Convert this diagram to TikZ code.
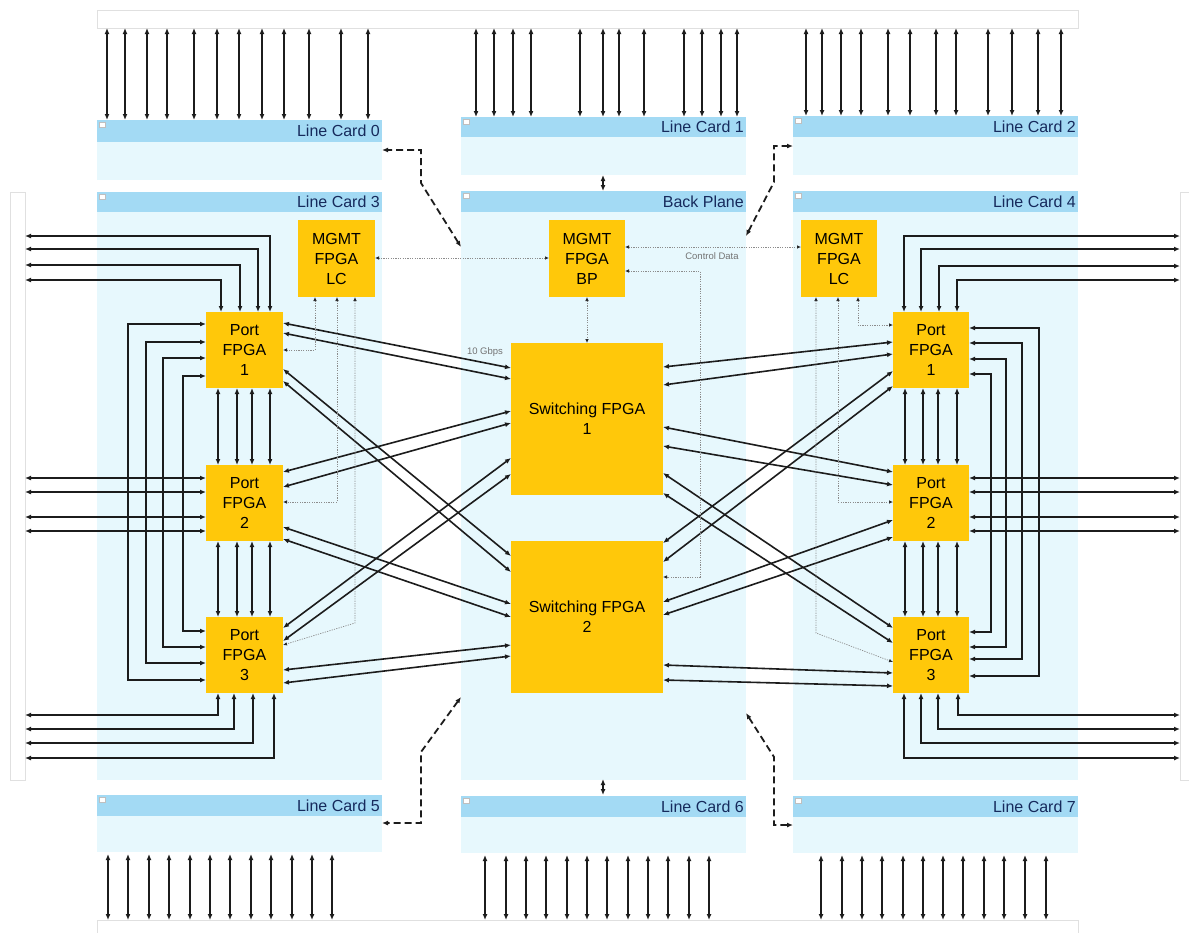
\documentclass[tikz,border=0pt]{standalone}
\usepackage{fontspec}
\setmainfont{Liberation Sans}
\usetikzlibrary{arrows.meta}
\definecolor{ycol}{RGB}{255,200,10}
\definecolor{hdrc}{RGB}{163,218,244}
\definecolor{bodyc}{RGB}{231,248,253}
\definecolor{txtblue}{RGB}{22,42,92}
\definecolor{linec}{RGB}{28,28,28}
\newcommand\rbox[7]{\node[#1, minimum width={(#5-#3)*1pt}, minimum height={(#6-#4)*1pt}] (#2) at ({(#3+#5)/2},{(#4+#6)/2}) {#7};}
\begin{document}
\begin{tikzpicture}[x=1pt,y=-1pt,
  box/.style={inner sep=0pt, outer sep=0pt},
  strip/.style={box, draw=black!12, line width=0.8pt, fill=white},
  cardbody/.style={box, fill=bodyc},
  cardhdr/.style={box, fill=hdrc},
  chip/.style={box, fill=ycol, align=center, font=\fontsize{16}{20}\selectfont, text=black},
  hdrtext/.style={inner sep=0pt, font=\fontsize{16}{19}\selectfont, text=txtblue, anchor=east},
  small/.style={inner sep=0pt, font=\fontsize{9.5}{11}\selectfont, text=black!55},
  icon/.style={draw=black!25, fill=white, line width=0.4pt},
  link/.style={line width=1.6pt, draw=linec, {Latex[length=6pt,width=5pt]}-{Latex[length=6pt,width=5pt]}},
  ctrl/.style={line width=0.7pt, draw=black!45, dash pattern=on 1.2pt off 1.2pt, {Latex[length=4pt,width=3.5pt,color=black!85]}-{Latex[length=4pt,width=3.5pt,color=black!85]}},
  mgmtl/.style={line width=1.8pt, draw=linec, dash pattern=on 7pt off 4pt, {Latex[length=6pt,width=5pt]}-{Latex[length=6pt,width=5pt]}}
]
\useasboundingbox[fill=white] (0,0) rectangle (1189,932);

% outer strips
\rbox{strip}{topstrip}{97}{10}{1078}{28}{}
\rbox{strip}{botstrip}{97}{920}{1078}{945}{}
\rbox{strip}{leftstrip}{10}{192}{25}{780}{}
\rbox{strip}{rightstrip}{1180}{192}{1200}{780}{}

% line cards: bodies
\rbox{cardbody}{lc0}{97}{120}{382}{180}{}
\rbox{cardbody}{lc1}{461}{117}{746}{175}{}
\rbox{cardbody}{lc2}{793}{116}{1078}{175}{}
\rbox{cardbody}{lc3}{97}{192}{382}{780}{}
\rbox{cardbody}{bp}{461}{191}{746}{780}{}
\rbox{cardbody}{lc4}{793}{191}{1078}{780}{}
\rbox{cardbody}{lc5}{97}{795}{382}{852}{}
\rbox{cardbody}{lc6}{461}{796}{746}{853}{}
\rbox{cardbody}{lc7}{793}{796}{1078}{853}{}
% headers
\rbox{cardhdr}{h0}{97}{120}{382}{142}{}
\rbox{cardhdr}{h1}{461}{117}{746}{137}{}
\rbox{cardhdr}{h2}{793}{116}{1078}{137}{}
\rbox{cardhdr}{h3}{97}{192}{382}{212}{}
\rbox{cardhdr}{hbp}{461}{191}{746}{212}{}
\rbox{cardhdr}{h4}{793}{191}{1078}{212}{}
\rbox{cardhdr}{h5}{97}{795}{382}{816}{}
\rbox{cardhdr}{h6}{461}{796}{746}{817}{}
\rbox{cardhdr}{h7}{793}{796}{1078}{817}{}
\foreach \h in {h0,h1,h2,h3,hbp,h4,h5,h6,h7}
  \draw[icon] ([shift={(2,2)}]\h.north west) rectangle ++(6,5);
\node[hdrtext] (t0) at ([xshift=-2pt]h0.east) {Line Card 0};
\node[hdrtext] (t1) at ([xshift=-2pt]h1.east) {Line Card 1};
\node[hdrtext] (t2) at ([xshift=-2pt]h2.east) {Line Card 2};
\node[hdrtext] (t3) at ([xshift=-2pt]h3.east) {Line Card 3};
\node[hdrtext] (tbp) at ([xshift=-2pt]hbp.east) {Back Plane};
\node[hdrtext] (t4) at ([xshift=-2pt]h4.east) {Line Card 4};
\node[hdrtext] (t5) at ([xshift=-2pt]h5.east) {Line Card 5};
\node[hdrtext] (t6) at ([xshift=-2pt]h6.east) {Line Card 6};
\node[hdrtext] (t7) at ([xshift=-2pt]h7.east) {Line Card 7};

% chips
\rbox{chip}{mL}{298}{220}{375}{297}{MGMT\\FPGA\\LC}
\rbox{chip}{mB}{549}{220}{625}{297}{MGMT\\FPGA\\BP}
\rbox{chip}{mR}{801}{220}{877}{297}{MGMT\\FPGA\\LC}
\rbox{chip}{pL1}{206}{312}{283}{388}{Port\\FPGA\\1}
\rbox{chip}{pL2}{206}{465}{283}{541}{Port\\FPGA\\2}
\rbox{chip}{pL3}{206}{617}{283}{693}{Port\\FPGA\\3}
\rbox{chip}{pR1}{893}{312}{969}{388}{Port\\FPGA\\1}
\rbox{chip}{pR2}{893}{465}{969}{541}{Port\\FPGA\\2}
\rbox{chip}{pR3}{893}{617}{969}{693}{Port\\FPGA\\3}
\rbox{chip}{sw1}{511}{343}{663}{495}{Switching FPGA\\1}
\rbox{chip}{sw2}{511}{541}{663}{693}{Switching FPGA\\2}

% external vertical links
\foreach \x in {107,125,147,167,194,217,239,262,284,309,341,368}
  \draw[link] (topstrip.south -| \x,0) -- (h0.north -| \x,0);
\foreach \x in {476,494,513,531,580,603,619,644,684,702,721,737}
  \draw[link] (topstrip.south -| \x,0) -- (h1.north -| \x,0);
\foreach \x in {806,822,841,861,888,910,936,956,988,1012,1038,1061}
  \draw[link] (topstrip.south -| \x,0) -- (h2.north -| \x,0);
\foreach \x in {108,128,149,169,190,210,230,251,271,292,312,332}
  \draw[link] ([yshift=-2pt]lc5.south -| \x,0) -- (botstrip.north -| \x,0);
\foreach \x in {485,506,526,546,567,587,607,628,648,668,689,709}
  \draw[link] ([yshift=-2pt]lc6.south -| \x,0) -- (botstrip.north -| \x,0);
\foreach \x in {821,842,862,882,903,923,943,963,984,1004,1025,1046}
  \draw[link] ([yshift=-2pt]lc7.south -| \x,0) -- (botstrip.north -| \x,0);

% backplane to line cards 1 / 6
\draw[link, line width=1.2pt] (lc1.south -| 603,0) -- (hbp.north -| 603,0);
\draw[link, line width=1.2pt] ([yshift=1pt]bp.south -| 603,0) -- ([yshift=1pt]h6.north -| 603,0);

% left line card external links
\foreach \y/\x in {236/270,249/258,265/240,280/221}
  \draw[link] (leftstrip.east |- 0,\y) -| (pL1.north -| \x,0);
\foreach \y in {478,492,517,531}
  \draw[link] (leftstrip.east |- 0,\y) -- (pL2.west |- 0,\y);
\foreach \x/\y in {218/715,234/729,253/743,274/758}
  \draw[link] (pL3.south -| \x,0) |- (leftstrip.east |- 0,\y);
\foreach \x in {218,237,252,270} {
  \draw[link] (pL1.south -| \x,0) -- (pL2.north -| \x,0);
  \draw[link] (pL2.south -| \x,0) -- (pL3.north -| \x,0);
}
\foreach \x/\a/\b in {128/324/680,146/342/663,163/358/647,183/376/631}
  \draw[link] (pL1.west |- 0,\a) -- (\x,\a) -- (\x,\b) -- (pL3.west |- 0,\b);

% right line card external links
\foreach \y/\x in {236/904,249/921,266/939,280/957}
  \draw[link] (rightstrip.west |- 0,\y) -| (pR1.north -| \x,0);
\foreach \y in {478,492,517,531}
  \draw[link] (pR2.east |- 0,\y) -- (rightstrip.west |- 0,\y);
\foreach \x/\y in {958/715,938/729,921/743,904/758}
  \draw[link] (pR3.south -| \x,0) |- (rightstrip.west |- 0,\y);
\foreach \x in {905,923,938,957} {
  \draw[link] (pR1.south -| \x,0) -- (pR2.north -| \x,0);
  \draw[link] (pR2.south -| \x,0) -- (pR3.north -| \x,0);
}
\foreach \x/\a/\b in {1039/328/676,1022/343/659,1006/359/647,991/374/632}
  \draw[link] (pR1.east |- 0,\a) -- (\x,\a) -- (\x,\b) -- (pR3.east |- 0,\b);

% port <-> switching links, left
\foreach \a/\b in {323/368,333/379}
  \draw[link] (pL1.east |- 0,\a) -- (sw1.west |- 0,\b);
\foreach \a/\b in {369/556,381/572}
  \draw[link] (pL1.east |- 0,\a) -- (sw2.west |- 0,\b);
\foreach \a/\b in {472/411,487/423}
  \draw[link] (pL2.east |- 0,\a) -- (sw1.west |- 0,\b);
\foreach \a/\b in {527/604,539/617}
  \draw[link] (pL2.east |- 0,\a) -- (sw2.west |- 0,\b);
\foreach \a/\b in {628/458,641/474}
  \draw[link] (pL3.east |- 0,\a) -- (sw1.west |- 0,\b);
\foreach \a/\b in {670/645,683/656}
  \draw[link] (pL3.east |- 0,\a) -- (sw2.west |- 0,\b);

% port <-> switching links, right
\foreach \a/\b in {367/342,385/354}
  \draw[link] (sw1.east |- 0,\a) -- (pR1.west |- 0,\b);
\foreach \a/\b in {543/371,562/386}
  \draw[link] (sw2.east |- 0,\a) -- (pR1.west |- 0,\b);
\foreach \a/\b in {427/472,446/485}
  \draw[link] (sw1.east |- 0,\a) -- (pR2.west |- 0,\b);
\foreach \a/\b in {602/520,615/537}
  \draw[link] (sw2.east |- 0,\a) -- (pR2.west |- 0,\b);
\foreach \a/\b in {473/628,493/643}
  \draw[link] (sw1.east |- 0,\a) -- (pR3.west |- 0,\b);
\foreach \a/\b in {665/673,680/686}
  \draw[link] (sw2.east |- 0,\a) -- (pR3.west |- 0,\b);

% management (control) links
\draw[ctrl] (mL.east |- 0,258) -- (mB.west |- 0,258);
\draw[ctrl] (mB.east |- 0,247) -- (mR.west |- 0,247);
\node[small] (cd) at (712,256) {Control Data};
\draw[ctrl] (mB.east |- 0,271) -- (700,271) -- (700,577) -- (sw2.east |- 0,577);
\draw[ctrl] (mB.south) -- (sw1.north);
\node[small] (gb) at (485,352) {10 Gbps};
\draw[ctrl] (mL.south -| 315,0) |- (pL1.east |- 0,350);
\draw[ctrl] (mL.south -| 337,0) |- (pL2.east |- 0,502);
\draw[ctrl] (mL.south -| 355,0) -- (355,623) -- (pL3.east |- 0,645);
\draw[ctrl] (mR.south -| 858,0) |- (pR1.west |- 0,325);
\draw[ctrl] (mR.south -| 838,0) |- (pR2.west |- 0,502);
\draw[ctrl] (mR.south -| 816,0) -- (816,633) -- (pR3.west |- 0,662);

% management links between cards (dashed)
\draw[mgmtl] (bp.west |- 0,247) -- (421,183) -- (421,150) -- (lc0.east |- 0,150);
\draw[mgmtl] (bp.east |- 0,236) -- (774,182) -- (774,146) -- (lc2.west |- 0,146);
\draw[mgmtl] (bp.west |- 0,697) -- (421,752) -- (421,823) -- (lc5.east |- 0,823);
\draw[mgmtl] (bp.east |- 0,713) -- (774,757) -- (774,825) -- (lc7.west |- 0,825);
\end{tikzpicture}
\end{document}
